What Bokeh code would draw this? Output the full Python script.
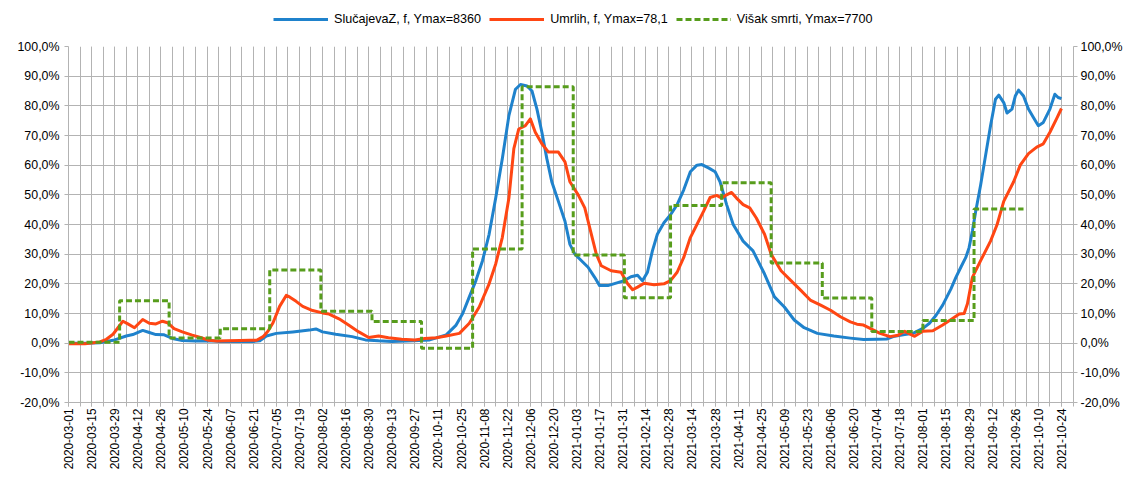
import pandas as pd
from math import pi
from bokeh.plotting import figure
from bokeh.layouts import column
from bokeh.models import (Range1d, LinearAxis, FixedTicker, DatetimeTickFormatter,
                          Legend, LegendItem)
from bokeh.embed import file_html
from bokeh.resources import INLINE

# ---------------- data ----------------
START = "2020-03-01"

# SlučajevaZ (cases), % of Ymax, sampled at day offsets from START
case_days = [0, 10, 19, 21, 28, 35, 39, 45, 49, 53, 58, 63, 69, 77, 86, 92, 98, 112, 116, 120,
             126, 136, 146, 150, 154, 162, 172, 180, 188, 196, 209, 219, 229, 235, 239, 243, 247,
             251, 255, 259, 263, 267, 271, 274, 278, 281, 284, 287, 290, 293, 297, 301, 304, 307,
             311, 315, 319, 322, 327, 333, 337, 341, 345, 348, 351, 354, 357, 361, 365, 369, 373,
             377, 381, 384, 388, 392, 395, 399, 403, 409, 415, 422, 428, 434, 440, 446, 454, 464,
             474, 482, 490, 496, 500, 506, 512, 518, 522, 526, 530, 535, 538, 541, 544, 546, 548,
             550, 553, 556, 559, 562, 564, 567, 569, 572, 574, 576, 579, 582, 585, 588, 591, 595,
             598, 600, 602]
case_pct = [0.0, 0.0, 0.1, 0.4, 1.1, 2.4, 2.9, 4.3, 3.6, 2.9, 2.8, 1.6, 0.9, 0.7, 0.8, 0.6, 0.6, 0.6, 0.8, 2.4,
            3.3, 3.8, 4.4, 4.8, 3.8, 3.0, 2.2, 1.1, 0.8, 0.6, 0.8, 1.1, 2.8, 6.1, 10.0, 15.6, 21.1,
            27.8, 36.7, 48.9, 62.2, 76.7, 85.6, 87.2, 86.7, 85.0, 78.9, 71.1, 62.2, 54.4, 47.8, 41.1, 33.3, 30.0,
            27.8, 25.6, 22.2, 19.4, 19.4, 20.4, 21.1, 22.4, 22.9, 21.0, 23.9, 31.1, 36.7, 40.6, 43.3, 46.7, 51.7,
            57.8, 60.0, 60.2, 59.1, 57.8, 54.4, 46.7, 40.0, 34.4, 31.1, 23.3, 15.6, 12.2, 7.8, 5.2, 3.3, 2.4,
            1.7, 1.2, 1.3, 1.4, 2.2, 2.8, 3.3, 5.0, 6.7, 9.4, 12.8, 18.3, 22.2, 25.6, 28.9, 32.2, 37.8,
            44.4, 53.3, 63.3, 73.3, 82.2, 83.6, 81.1, 77.6, 78.9, 83.3, 85.3, 83.3, 78.9, 76.1, 73.3, 74.4, 78.9,
            83.9, 82.8, 82.4]

# Umrlih (deaths), % of Ymax
death_days = [0, 10, 19, 23, 27, 30, 33, 36, 40, 45, 49, 53, 57, 60, 64, 69, 75, 80, 85, 90, 96, 104,
              110, 114, 118, 121, 124, 128, 132, 134, 138, 142, 148, 154, 158, 164, 170, 176, 182,
              188, 194, 202, 210, 216, 223, 229, 237, 243, 249, 255, 259, 263, 267, 270, 273, 277,
              280, 283, 287, 291, 297, 301, 304, 309, 313, 317, 320, 323, 329, 335, 339, 342, 345,
              349, 355, 361, 365, 369, 373, 377, 381, 385, 389, 393, 396, 399, 402, 405, 409, 413,
              417, 422, 426, 432, 438, 444, 450, 456, 462, 468, 474, 478, 482, 486, 492, 498, 503,
              507, 513, 518, 524, 530, 536, 540, 543, 545, 548, 553, 559, 563, 567, 573, 577, 582,
              587, 591, 595, 599, 602]
death_pct = [-0.2, -0.2, 0.4, 1.3, 3.0, 5.2, 7.4, 6.5, 5.2, 8.0, 6.7, 6.5, 7.4, 6.9, 4.9, 3.8, 2.7, 1.9, 1.0, 0.7, 0.8, 0.9,
             1.0, 1.0, 2.2, 4.1, 6.9, 12.4, 16.1, 15.6, 14.1, 12.4, 11.0, 10.2, 9.8, 8.2, 6.0, 3.8, 1.9,
             2.4, 1.8, 1.3, 1.1, 1.6, 1.8, 2.4, 3.3, 6.7, 12.2, 20.0, 26.7, 35.6, 48.9, 65.6, 72.2, 73.3,
             75.6, 71.1, 67.2, 64.4, 64.4, 61.1, 54.4, 50.0, 45.6, 36.7, 30.0, 26.1, 24.4, 23.9, 20.0, 18.0, 18.9,
             20.2, 19.7, 20.0, 21.1, 23.9, 28.9, 35.6, 40.0, 44.4, 49.1, 49.8, 48.9, 50.0, 50.8, 48.9, 46.7, 45.6,
             42.2, 36.7, 30.0, 24.4, 21.1, 17.8, 14.4, 12.8, 11.1, 8.9, 7.2, 6.4, 6.1, 5.0, 3.3, 2.2, 2.7,
             4.0, 2.3, 4.0, 4.2, 6.1, 8.3, 9.8, 10.0, 13.3, 22.2, 27.8, 34.4, 40.0, 47.8, 54.4, 60.0, 63.9,
             66.1, 67.2, 71.1, 75.6, 79.1]

# Višak smrti (excess deaths), monthly, % of Ymax
excess_months = ["2020-03-01", "2020-04-01", "2020-05-01", "2020-06-01", "2020-07-01", "2020-08-01",
                 "2020-09-01", "2020-10-01", "2020-11-01", "2020-12-01", "2021-01-01", "2021-02-01",
                 "2021-03-01", "2021-04-01", "2021-05-01", "2021-06-01", "2021-07-01", "2021-08-01",
                 "2021-09-01"]
excess_pct = [0.3, 14.3, 1.7, 4.9, 24.7, 10.8, 7.3, -1.7, 31.7, 86.4, 29.7, 15.3,
              46.4, 54.1, 27.0, 15.2, 3.9, 7.6, 45.2]
excess_end = "2021-10-01"

series_labels = ["SlučajevaZ, f, Ymax=8360", "Umrlih, f, Ymax=78,1", "Višak smrti, Ymax=7700"]
y_ticks = list(range(-20, 101, 10))
x_label_first, x_label_last = "2020-03-01", "2021-10-24"
x_grid_last = "2021-10-31"

# ---------------- build ----------------
EPOCH = pd.Timestamp("1970-01-01")
def ms(t):
    return (pd.Timestamp(t) - EPOCH) / pd.Timedelta("1ms")

start = pd.Timestamp(START)
case_x = start + pd.to_timedelta(case_days, unit="D")
death_x = start + pd.to_timedelta(death_days, unit="D")
ex_x = list(pd.to_datetime(excess_months)) + [pd.Timestamp(excess_end)]
ex_y = excess_pct + [excess_pct[-1]]

FONT = "Liberation Sans"
FS = "12.4px"
FS_X = "11.9px"
FS_LEG = "12.6px"
GRID = "#b3b3b3"
BLUE = "#1f82cc"
ORANGE = "#ff4613"
GREEN = "#579d1c"
LEG_H = 30

x_start = ms(start)
x_end = ms(start + pd.Timedelta(days=609.3))

p = figure(width=1125, height=472 - LEG_H, output_backend="svg", toolbar_location=None,
           x_range=Range1d(x_start, x_end), y_range=Range1d(-20, 100),
           x_axis_type="datetime", y_axis_location="left",
           min_border_left=68, min_border_right=49, min_border_top=46 - LEG_H, min_border_bottom=67)
p.outline_line_color = None
p.background_fill_color = "white"
p.border_fill_color = "white"

major = [ms(t) for t in pd.date_range(x_label_first, x_label_last, freq="14D")]
minor = [ms(t) for t in pd.date_range(x_label_first, x_grid_last, freq="7D")]
xt = FixedTicker(ticks=major, minor_ticks=minor)
xa = p.xaxis[0]
xa.ticker = xt
fmt = "%Y-%m-%d"
xa.formatter = DatetimeTickFormatter(microseconds=fmt, milliseconds=fmt, seconds=fmt, minsec=fmt,
                                     minutes=fmt, hourmin=fmt, hours=fmt, days=fmt, months=fmt, years=fmt)
xa.major_label_orientation = pi / 2
xa.major_label_standoff = 2
xa.major_label_text_font = FONT
xa.major_label_text_font_size = FS_X
xa.major_label_text_color = "#000000"
xa.axis_line_color = GRID
xa.major_tick_line_color = GRID
xa.minor_tick_line_color = GRID
xa.major_tick_out = 4
xa.major_tick_in = 0
xa.minor_tick_out = 4
xa.minor_tick_in = 0

p.xgrid.ticker = xt
p.xgrid.grid_line_color = GRID
p.xgrid.minor_grid_line_color = GRID
p.ygrid.ticker = FixedTicker(ticks=y_ticks)
p.ygrid.grid_line_color = GRID

y_labels = {v: (f"{v:.1f}%").replace(".", ",") for v in y_ticks}

def style_y(ax):
    ax.ticker = FixedTicker(ticks=y_ticks, minor_ticks=[])
    ax.major_label_overrides = y_labels
    ax.major_label_text_font = FONT
    ax.major_label_text_font_size = FS
    ax.major_label_text_color = "#000000"
    ax.major_label_standoff = 5
    ax.axis_line_color = GRID
    ax.major_tick_line_color = GRID
    ax.minor_tick_line_color = None
    ax.major_tick_out = 4
    ax.major_tick_in = 0

style_y(p.yaxis[0])
ry = LinearAxis()
style_y(ry)
ry.major_label_standoff = 3
p.add_layout(ry, "right")

line_styles = [dict(line_color=BLUE, line_width=3),
               dict(line_color=ORANGE, line_width=3),
               dict(line_color=GREEN, line_width=3, line_dash="6 3")]

p.line(case_x, case_pct, line_join="round", **line_styles[0])
p.line(death_x, death_pct, line_join="round", **line_styles[1])
p.step(ex_x, ex_y, mode="after", **line_styles[2])

# legend strip above the plot (a separate panel so that the legend is not clipped);
# it carries the same series, outside its visible y range, only to key the legend
lf = figure(width=1125, height=LEG_H, output_backend="svg", toolbar_location=None,
            x_range=Range1d(x_start, x_end), y_range=Range1d(1000, 1001),
            min_border_left=0, min_border_right=0, min_border_top=0, min_border_bottom=0)
lf.axis.visible = False
lf.grid.visible = False
lf.outline_line_color = None
lf.background_fill_color = "white"
lf.border_fill_color = "white"
leg_r = [lf.line(case_x, case_pct, **line_styles[0]),
         lf.line(death_x, death_pct, **line_styles[1]),
         lf.step(ex_x, ex_y, mode="after", **line_styles[2])]

legend = Legend(items=[LegendItem(label=lab, renderers=[r]) for lab, r in zip(series_labels, leg_r)],
                orientation="horizontal", location=(205, 3),
                glyph_width=55, glyph_height=16, label_height=16, label_standoff=6, spacing=8,
                padding=0, margin=0, border_line_alpha=0, background_fill_alpha=0,
                label_text_font=FONT, label_text_font_size=FS_LEG, label_text_color="#000000")
lf.add_layout(legend, "center")

layout = column(lf, p, spacing=0)
open("out.html", "w").write(file_html(layout, INLINE))
